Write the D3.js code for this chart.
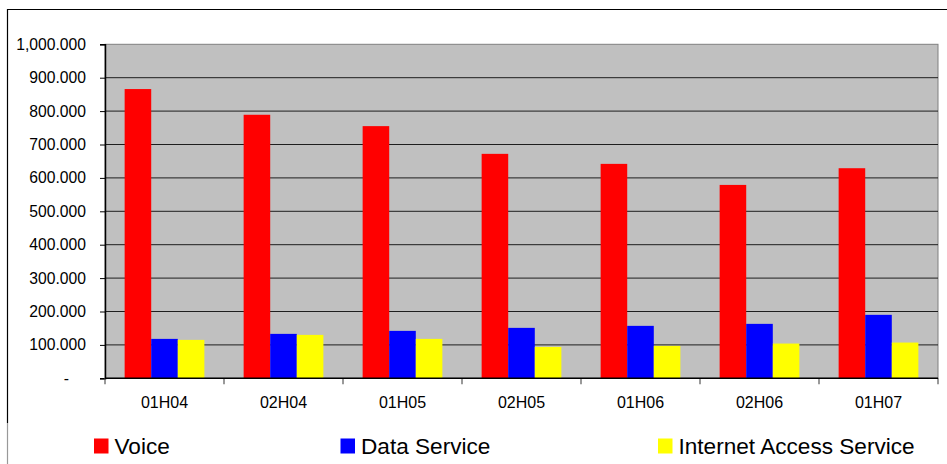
<!DOCTYPE html>
<html>
<head>
<meta charset="utf-8">
<script src="https://cdn.jsdelivr.net/npm/d3@7"></script>
<style>
  body { margin: 0; background: #fff; }
  svg { display: block; font-family: "Liberation Sans", Arial, sans-serif; }
</style>
</head>
<body>
<svg id="chart" width="947" height="464"></svg>
<script>
var periods = ['01H04', '02H04', '01H05', '02H05', '01H06', '02H06', '01H07'];
var seriesNames = ['Voice', 'Data Service', 'Internet Access Service'];
var seriesColors = ['#ff0000', '#0000ff', '#ffff00'];
var voice = [866, 789, 755, 672, 642, 579, 629];
var dataService = [118, 133, 142, 151, 157, 163, 190];
var internetAccess = [115, 130, 118, 94, 97, 104, 107];
var yTicks = [0, 100, 200, 300, 400, 500, 600, 700, 800, 900, 1000];

var values = [voice, dataService, internetAccess];

var svg = d3.select('#chart');

var plot = { left: 105, right: 938, top: 44.3, bottom: 378.3 };

var x0 = d3.scaleBand()
    .domain(periods)
    .range([plot.left, plot.right])
    .padding(0);

var bw = x0.bandwidth();
var x1 = d3.scaleBand()
    .domain(seriesNames)
    .range([bw * 0.165, bw * 0.835])
    .padding(0);

var y = d3.scaleLinear()
    .domain([0, 1000])
    .range([plot.bottom, plot.top]);

var fmt = d3.format(',.3f');

// outer frame
svg.append('line')
    .attr('x1', 7).attr('x2', 947).attr('y1', 9.5).attr('y2', 9.5)
    .attr('stroke', '#000').attr('stroke-width', 1.2);
svg.append('line')
    .attr('x1', 7.5).attr('x2', 7.5).attr('y1', 9).attr('y2', 423)
    .attr('stroke', '#000').attr('stroke-width', 1.2);
svg.append('line')
    .attr('x1', 7.5).attr('x2', 7.5).attr('y1', 423).attr('y2', 464)
    .attr('stroke', '#999').attr('stroke-width', 1.2);

// plot area
svg.append('rect')
    .attr('x', plot.left).attr('y', plot.top)
    .attr('width', plot.right - plot.left)
    .attr('height', plot.bottom - plot.top)
    .attr('fill', '#c0c0c0')
    .attr('stroke', '#808080')
    .attr('stroke-width', 1);

// gridlines
svg.append('g').attr('class', 'grid')
    .selectAll('line')
    .data(yTicks.filter(function(d) { return d > 0 && d < 1000; }))
    .enter().append('line')
    .attr('x1', plot.left).attr('x2', plot.right)
    .attr('y1', function(d) { return y(d); })
    .attr('y2', function(d) { return y(d); })
    .attr('stroke', '#1e1e1e')
    .attr('stroke-width', 1);

// bars
var groups = svg.append('g').attr('class', 'bars')
    .selectAll('g')
    .data(periods)
    .enter().append('g')
    .attr('transform', function(d) { return 'translate(' + x0(d) + ',0)'; });

groups.selectAll('rect')
    .data(function(p, i) {
        return seriesNames.map(function(s, j) {
            return { series: s, value: values[j][i], color: seriesColors[j] };
        });
    })
    .enter().append('rect')
    .attr('x', function(d) { return x1(d.series); })
    .attr('width', x1.bandwidth())
    .attr('y', function(d) { return y(d.value); })
    .attr('height', function(d) { return y(0) - y(d.value); })
    .attr('fill', function(d) { return d.color; });

// y axis
var yAxis = svg.append('g')
    .attr('transform', 'translate(' + plot.left + ',0)')
    .call(d3.axisLeft(y)
        .tickValues(yTicks)
        .tickSize(5)
        .tickPadding(14)
        .tickFormat(function(d) { return d === 0 ? '-' : fmt(d); }));
yAxis.select('.domain').attr('stroke', '#000').attr('stroke-width', 1.5);
yAxis.selectAll('.tick line').attr('stroke', '#000');
yAxis.selectAll('.tick text')
    .attr('font-size', 15.7)
    .attr('fill', '#000')
    .attr('font-family', '"Liberation Sans", Arial, sans-serif')
    .attr('dx', function(d) { return d === 0 ? -17 : 0; });

// x axis labels
var xAxis = svg.append('g')
    .attr('transform', 'translate(0,' + plot.bottom + ')')
    .call(d3.axisBottom(x0).tickSize(0).tickPadding(18));
xAxis.select('.domain').remove();
xAxis.selectAll('.tick text')
    .attr('font-size', 16)
    .attr('fill', '#000')
    .attr('font-family', '"Liberation Sans", Arial, sans-serif');

// category boundary ticks
var bounds = periods.map(function(p) { return x0(p); }).concat([plot.right]);
svg.append('g').selectAll('line')
    .data(bounds)
    .enter().append('line')
    .attr('x1', function(d) { return d; })
    .attr('x2', function(d) { return d; })
    .attr('y1', plot.bottom).attr('y2', plot.bottom + 6)
    .attr('stroke', '#555').attr('stroke-width', 1.2);

// baseline
svg.append('line')
    .attr('x1', plot.left).attr('x2', plot.right)
    .attr('y1', plot.bottom).attr('y2', plot.bottom)
    .attr('stroke', '#000').attr('stroke-width', 1.5);

// legend
var legendX = [94, 340.5, 658];
var legend = svg.append('g').selectAll('g')
    .data(seriesNames)
    .enter().append('g')
    .attr('transform', function(d, i) { return 'translate(' + legendX[i] + ',438.5)'; });

legend.append('rect')
    .attr('width', 14.5).attr('height', 15)
    .attr('fill', function(d, i) { return seriesColors[i]; });

legend.append('text')
    .attr('x', 20.5).attr('y', 15)
    .attr('font-size', 22.6)
    .attr('fill', '#000')
    .text(function(d) { return d; });
</script>
</body>
</html>
